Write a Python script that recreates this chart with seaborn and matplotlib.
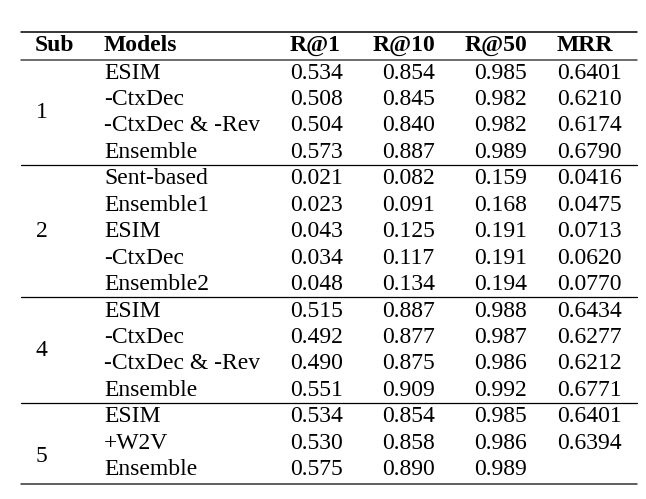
import matplotlib
matplotlib.use("Agg")
import matplotlib.pyplot as plt
import seaborn as sns

# --- data ---
headers = ["Sub", "Models", "R@1", "R@10", "R@50", "MRR"]
subs = ["1", "2", "4", "5"]
group_models = [
    ["ESIM", "-CtxDec", "-CtxDec & -Rev", "Ensemble"],
    ["Sent-based", "Ensemble1", "ESIM", "-CtxDec", "Ensemble2"],
    ["ESIM", "-CtxDec", "-CtxDec & -Rev", "Ensemble"],
    ["ESIM", "+W2V", "Ensemble"],
]
r1 = ["0.534", "0.508", "0.504", "0.573",
      "0.021", "0.023", "0.043", "0.034", "0.048",
      "0.515", "0.492", "0.490", "0.551",
      "0.534", "0.530", "0.575"]
r10 = ["0.854", "0.845", "0.840", "0.887",
       "0.082", "0.091", "0.125", "0.117", "0.134",
       "0.887", "0.877", "0.875", "0.909",
       "0.854", "0.858", "0.890"]
r50 = ["0.985", "0.982", "0.982", "0.989",
       "0.159", "0.168", "0.191", "0.191", "0.194",
       "0.988", "0.987", "0.986", "0.992",
       "0.985", "0.986", "0.989"]
# last MRR value is hidden in the source image
mrr = ["0.6401", "0.6210", "0.6174", "0.6790",
       "0.0416", "0.0475", "0.0713", "0.0620", "0.0770",
       "0.6434", "0.6277", "0.6212", "0.6771",
       "0.6401", "0.6394", ""]
# sub label position inside its group (in rows)
sub_offset = [1.5, 2.0, 1.5, 1.5]

# --- layout (pixel space) ---
W, H = 646, 499
ROW0, PITCH = 71.0, 26.45
HEAD_Y = 43.5
BASE = 7.5
X_L, X_R = 21, 637
header_x = [35, 104, 290, 373, 465, 557]
value_x = [36, 104, 290, 382, 474, 557]
FS = 17

sns.set_theme(style="white")
plt.rcParams["font.family"] = ["Liberation Serif", "DejaVu Serif"]

fig = plt.figure(figsize=(W / 100, H / 100), dpi=100)
ax = fig.add_axes([0, 0, 1, 1])
ax.set_xlim(0, W)
ax.set_ylim(H, 0)
ax.axis("off")

def row_y(i):
    return ROW0 + i * PITCH

# header
for h, x in zip(headers, header_x):
    ax.text(x, HEAD_Y + BASE, h, fontsize=FS, fontweight="bold",
            va="baseline", ha="left", color="black")

cols = [r1, r10, r50, mrr]
i = 0
sep_rows = []
for g, models in enumerate(group_models):
    start = i
    ax.text(value_x[0], row_y(start + sub_offset[g]) + BASE, subs[g],
            fontsize=FS, va="baseline", ha="left", color="black")
    for m in models:
        ax.text(value_x[1], row_y(i) + BASE, m, fontsize=FS,
                va="baseline", ha="left", color="black")
        for c, vals in enumerate(cols):
            ax.text(value_x[c + 2], row_y(i) + BASE, vals[i], fontsize=FS,
                    va="baseline", ha="left", color="black")
        i += 1
    sep_rows.append(i)

# rules
ax.plot([X_L, X_R], [32, 32], color="black", lw=1.1)
ax.plot([X_L, X_R], [59.5, 59.5], color="#444444", lw=1.1)
for r in sep_rows[:-1]:
    y = (row_y(r - 1) + row_y(r)) / 2 + 1.5
    ax.plot([X_L, X_R], [y, y], color="black", lw=0.9)
ax.plot([X_L, X_R], [row_y(sep_rows[-1] - 1) + 16, row_y(sep_rows[-1] - 1) + 16],
        color="#333333", lw=1.1)

fig.savefig("out.png", dpi=100)
